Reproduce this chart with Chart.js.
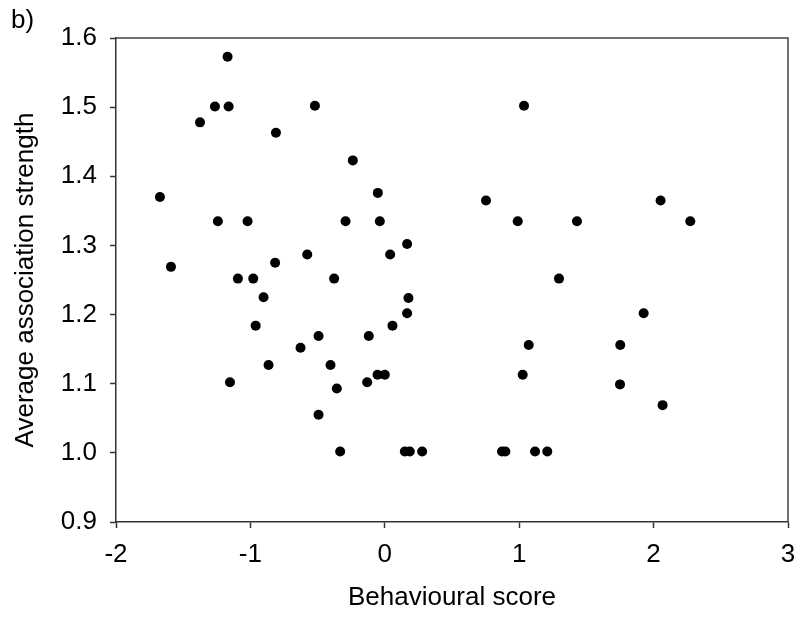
<!DOCTYPE html>
<html>
<head>
<meta charset="utf-8">
<script src="https://cdn.jsdelivr.net/npm/chart.js@4.4.0/dist/chart.umd.min.js"></script>
<style>
  html, body { margin: 0; padding: 0; background: #fff; }
  #chart { display: block; }
</style>
</head>
<body>
<canvas id="chart" width="795" height="628"></canvas>
<script>
// Data
const behaviouralScore = [
    -1.17, -1.264, -1.162, -1.375, -0.52, -0.81, -0.238, -1.673, -0.052,
    -1.242, -1.021, -0.292, -0.037, -1.591, -0.577, 0.04, -0.816,
    1.036, 0.753, 2.052, 0.989, 1.43, 2.273, 0.166, 1.296,
    -1.093, -0.979, -0.377, -0.902, -0.961, -0.493, -0.119, 0.057,
    -0.627, -0.865, -0.404, -1.152, -0.131, -0.054, 0.0, -0.357, -0.493, -0.332,
    0.176, 0.166, 1.926, 1.071, 1.752, 1.026, 1.75, 2.067,
    0.149, 0.186, 0.278, 0.872, 0.897, 1.118, 1.209
];
const associationStrength = [
    1.573, 1.501, 1.501, 1.478, 1.502, 1.463, 1.423, 1.37, 1.376,
    1.335, 1.335, 1.335, 1.335, 1.269, 1.287, 1.287, 1.275,
    1.502, 1.365, 1.365, 1.335, 1.335, 1.335, 1.302, 1.252,
    1.252, 1.252, 1.252, 1.225, 1.184, 1.169, 1.169, 1.184,
    1.152, 1.127, 1.127, 1.102, 1.102, 1.113, 1.113, 1.093, 1.055, 1.002,
    1.224, 1.202, 1.202, 1.156, 1.156, 1.113, 1.099, 1.069,
    1.002, 1.002, 1.002, 1.002, 1.002, 1.002, 1.002
];
const xTicks = [-2, -1, 0, 1, 2, 3];
const yTicks = [0.9, 1.0, 1.1, 1.2, 1.3, 1.4, 1.5, 1.6];

const points = behaviouralScore.map((x, i) => ({ x: x, y: associationStrength[i] }));

const FONT = 'Liberation Sans, Arial, sans-serif';
const FONT_SIZE = 26;
const AXIS_COLOR = '#333';

// frame on top/right + panel label
const framePlugin = {
    id: 'frame',
    afterDraw(chart) {
        const { ctx, chartArea } = chart;
        ctx.save();
        ctx.strokeStyle = '#444';
        ctx.lineWidth = 1.5;
        ctx.beginPath();
        ctx.moveTo(chartArea.left, chartArea.top);
        ctx.lineTo(chartArea.right, chartArea.top);
        ctx.lineTo(chartArea.right, chartArea.bottom);
        ctx.stroke();
        ctx.fillStyle = '#000';
        ctx.font = FONT_SIZE + 'px ' + FONT;
        ctx.textBaseline = 'alphabetic';
        ctx.fillText('b)', 11, 28);
        ctx.restore();
    }
};

new Chart(document.getElementById('chart'), {
    type: 'scatter',
    data: {
        datasets: [{
            data: points,
            backgroundColor: '#000',
            borderWidth: 0,
            pointRadius: 5,
            pointHoverRadius: 5
        }]
    },
    options: {
        responsive: false,
        animation: false,
        layout: { padding: { top: 38, right: 7, left: 0, bottom: 0 } },
        plugins: {
            legend: { display: false },
            tooltip: { enabled: false }
        },
        scales: {
            x: {
                type: 'linear',
                min: -2,
                max: 3,
                afterBuildTicks: scale => { scale.ticks = xTicks.map(v => ({ value: v })); },
                afterFit: scale => { scale.height = 106; scale.paddingLeft = 0; scale.paddingRight = 0; },
                border: { color: AXIS_COLOR, width: 1.5 },
                grid: { drawOnChartArea: false, tickLength: 6, color: AXIS_COLOR, tickWidth: 1.5 },
                ticks: {
                    color: '#000',
                    padding: 11,
                    font: { family: FONT, size: FONT_SIZE },
                    callback: v => String(v)
                },
                title: {
                    display: true,
                    text: 'Behavioural score',
                    color: '#000',
                    font: { family: FONT, size: FONT_SIZE },
                    padding: { top: 0, bottom: 15 }
                }
            },
            y: {
                type: 'linear',
                min: 0.9,
                max: 1.6,
                afterBuildTicks: scale => { scale.ticks = yTicks.map(v => ({ value: v })); },
                afterFit: scale => { scale.width = 116; },
                border: { color: AXIS_COLOR, width: 1.5 },
                grid: { drawOnChartArea: false, tickLength: 6, color: AXIS_COLOR, tickWidth: 1.5 },
                ticks: {
                    color: '#000',
                    padding: 13,
                    font: { family: FONT, size: FONT_SIZE },
                    callback: v => Number(v).toFixed(1)
                },
                title: {
                    display: true,
                    text: 'Average association strength',
                    color: '#000',
                    font: { family: FONT, size: FONT_SIZE },
                    padding: { top: 10, bottom: 0 }
                }
            }
        }
    },
    plugins: [framePlugin]
});
</script>
</body>
</html>
